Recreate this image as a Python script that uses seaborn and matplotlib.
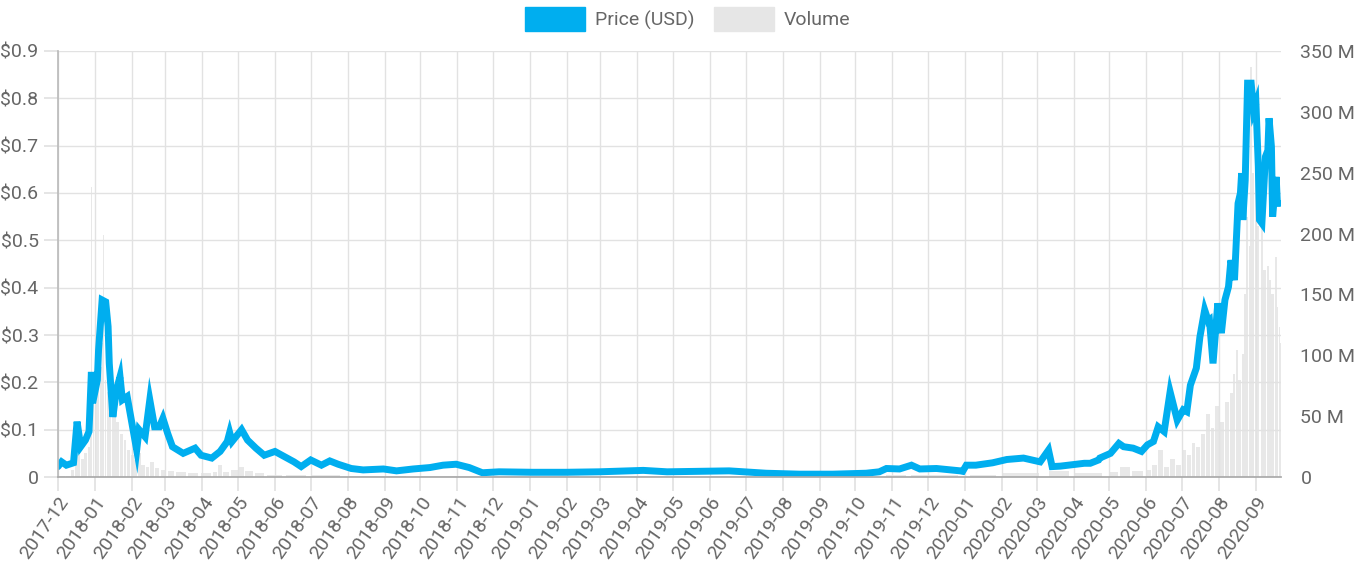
import pandas as pd
import numpy as np
import matplotlib.pyplot as plt
import matplotlib.dates as mdates
from matplotlib.patches import Patch
from matplotlib.ticker import FixedLocator, FuncFormatter
import seaborn as sns

sns.set_theme(style="white")
plt.rcParams['font.family'] = ['Roboto', 'DejaVu Sans']

# price samples
price_dates = [
    "2017-12-01", "2017-12-04", "2017-12-08", "2017-12-14", "2017-12-17", "2017-12-20",
    "2017-12-24", "2017-12-27", "2017-12-29", "2017-12-30", "2018-01-03", "2018-01-04",
    "2018-01-07", "2018-01-10", "2018-01-12", "2018-01-13", "2018-01-16", "2018-01-19",
    "2018-01-22", "2018-01-24", "2018-01-28", "2018-01-30", "2018-02-05", "2018-02-07",
    "2018-02-12", "2018-02-16", "2018-02-20", "2018-02-24", "2018-02-27", "2018-03-03",
    "2018-03-07", "2018-03-16", "2018-03-26", "2018-03-31", "2018-04-09", "2018-04-16",
    "2018-04-22", "2018-04-24", "2018-04-26", "2018-05-04", "2018-05-09", "2018-05-16",
    "2018-05-23", "2018-06-01", "2018-06-09", "2018-06-17", "2018-06-23", "2018-07-01",
    "2018-07-10", "2018-07-17", "2018-07-24", "2018-08-04", "2018-08-14", "2018-08-31",
    "2018-09-11", "2018-09-25", "2018-10-09", "2018-10-20", "2018-10-31", "2018-11-11",
    "2018-11-22", "2018-12-06", "2019-01-03", "2019-01-31", "2019-02-28", "2019-04-06",
    "2019-04-26", "2019-05-23", "2019-06-17", "2019-07-18", "2019-08-15", "2019-09-12",
    "2019-10-10", "2019-10-21", "2019-10-27", "2019-11-07", "2019-11-17", "2019-11-24",
    "2019-12-08", "2019-12-28", "2019-12-30", "2020-01-02", "2020-01-10", "2020-01-24",
    "2020-02-05", "2020-02-19", "2020-02-26", "2020-03-04", "2020-03-11", "2020-03-14",
    "2020-03-21", "2020-04-10", "2020-04-15", "2020-04-22", "2020-04-23", "2020-05-02",
    "2020-05-09", "2020-05-13", "2020-05-21", "2020-05-28", "2020-06-02", "2020-06-07",
    "2020-06-11", "2020-06-16", "2020-06-21", "2020-06-27", "2020-07-02", "2020-07-05",
    "2020-07-08", "2020-07-13", "2020-07-16", "2020-07-20", "2020-07-23", "2020-07-24",
    "2020-07-27", "2020-07-31", "2020-08-03", "2020-08-06", "2020-08-09", "2020-08-11",
    "2020-08-14", "2020-08-17", "2020-08-19", "2020-08-20", "2020-08-21", "2020-08-23",
    "2020-08-25", "2020-08-28", "2020-08-30", "2020-09-01", "2020-09-03", "2020-09-04",
    "2020-09-06", "2020-09-09", "2020-09-11", "2020-09-12", "2020-09-14", "2020-09-15",
    "2020-09-18", "2020-09-19", "2020-09-21",
]
price_usd = [
    0.022, 0.032, 0.025, 0.030, 0.117, 0.064,
    0.078, 0.096, 0.222, 0.156, 0.205, 0.268,
    0.374, 0.370, 0.318, 0.240, 0.127, 0.184,
    0.212, 0.163, 0.170, 0.142, 0.057, 0.100,
    0.085, 0.163, 0.106, 0.106, 0.124, 0.092,
    0.064, 0.050, 0.061, 0.046, 0.040, 0.054,
    0.075, 0.094, 0.075, 0.100, 0.078, 0.061,
    0.046, 0.054, 0.043, 0.032, 0.022, 0.036,
    0.025, 0.034, 0.027, 0.018, 0.015, 0.017,
    0.013, 0.017, 0.020, 0.025, 0.027, 0.020,
    0.009, 0.011, 0.010, 0.010, 0.011, 0.014,
    0.011, 0.012, 0.013, 0.008, 0.006, 0.006,
    0.008, 0.011, 0.018, 0.017, 0.025, 0.017,
    0.018, 0.013, 0.012, 0.025, 0.025, 0.030,
    0.037, 0.040, 0.036, 0.032, 0.057, 0.022,
    0.023, 0.029, 0.029, 0.036, 0.040, 0.050,
    0.071, 0.064, 0.061, 0.054, 0.068, 0.075,
    0.106, 0.096, 0.180, 0.120, 0.142, 0.138,
    0.194, 0.230, 0.296, 0.353, 0.330, 0.332,
    0.240, 0.367, 0.304, 0.374, 0.402, 0.458,
    0.416, 0.578, 0.600, 0.642, 0.543, 0.627,
    0.832, 0.832, 0.775, 0.790, 0.656, 0.543,
    0.536, 0.677, 0.690, 0.758, 0.698, 0.550,
    0.634, 0.578, 0.578,
]

# volume samples (millions)
volume_dates = [
    "2017-12-01", "2017-12-08", "2017-12-12", "2017-12-15", "2017-12-17", "2017-12-20",
    "2017-12-23", "2017-12-26", "2017-12-28", "2017-12-29", "2017-12-30", "2018-01-01",
    "2018-01-03", "2018-01-05", "2018-01-07", "2018-01-08", "2018-01-09", "2018-01-11",
    "2018-01-13", "2018-01-15", "2018-01-17", "2018-01-19", "2018-01-22", "2018-01-25",
    "2018-01-28", "2018-01-31", "2018-02-03", "2018-02-06", "2018-02-09", "2018-02-13",
    "2018-02-16", "2018-02-20", "2018-02-25", "2018-03-03", "2018-03-10", "2018-03-20",
    "2018-03-31", "2018-04-10", "2018-04-14", "2018-04-18", "2018-04-25", "2018-05-02",
    "2018-05-07", "2018-05-15", "2018-05-25", "2018-06-10", "2018-07-01", "2018-08-01",
    "2018-10-01", "2018-12-01", "2019-03-01", "2019-06-01", "2019-09-01", "2019-10-27",
    "2019-11-17", "2020-01-05", "2020-02-01", "2020-03-11", "2020-04-01", "2020-05-01",
    "2020-05-10", "2020-05-20", "2020-06-01", "2020-06-06", "2020-06-11", "2020-06-16",
    "2020-06-21", "2020-06-26", "2020-07-01", "2020-07-05", "2020-07-09", "2020-07-13",
    "2020-07-17", "2020-07-21", "2020-07-25", "2020-07-29", "2020-08-02", "2020-08-06",
    "2020-08-10", "2020-08-13", "2020-08-15", "2020-08-17", "2020-08-20", "2020-08-22",
    "2020-08-24", "2020-08-26", "2020-08-27", "2020-08-29", "2020-08-31", "2020-09-02",
    "2020-09-04", "2020-09-05", "2020-09-07", "2020-09-10", "2020-09-12", "2020-09-14",
    "2020-09-17", "2020-09-19", "2020-09-20", "2020-09-21",
]
volume_m = [
    0.5, 1, 6, 10, 18, 15,
    20, 25, 45, 238, 60, 70,
    85, 90, 110, 199, 80, 70,
    60, 75, 50, 45, 35, 30,
    22, 18, 14, 20, 10, 8,
    12, 7, 6, 5, 4, 3,
    3, 4, 10, 4, 6, 8,
    5, 3, 2, 2, 1.5, 1.2,
    1, 1, 1, 1, 1, 2,
    2, 2, 3, 5, 3, 4,
    8, 5, 6, 10, 22, 8,
    15, 10, 22, 18, 28, 25,
    35, 52, 40, 58, 45, 62,
    69, 85, 104, 80, 101, 150,
    214, 190, 337, 250, 307, 206,
    185, 217, 170, 173, 162, 150,
    181, 140, 123, 110,
]

price_x = pd.to_datetime(price_dates)
vol_x = pd.to_datetime(volume_dates)
end_date = pd.Timestamp("2020-09-22")
vol_width = np.diff(np.append(mdates.date2num(vol_x), mdates.date2num(end_date)))

fig = plt.figure(figsize=(13.62, 5.71), dpi=100)
ax = fig.add_axes([0.0426, 0.1646, 0.8979, 0.7461])
ax2 = ax.twinx()
ax.set_zorder(ax2.get_zorder() + 1)
ax.patch.set_visible(False)

text_color = "#666666"
grid_color = "#e2e2e2"

ax2.bar(vol_x, volume_m, width=vol_width * 0.8, align="edge", color="#e8e8e8",
        edgecolor="none")
ax2.set_ylim(0, 350)
ax2.yaxis.set_major_locator(FixedLocator(np.arange(0, 351, 50)))
ax2.yaxis.set_major_formatter(FuncFormatter(lambda v, p: "0" if v == 0 else f"{int(v)} M"))

sns.lineplot(x=price_x, y=price_usd, ax=ax, color="#00aeef", linewidth=5)
for ln in ax.lines:
    ln.set_solid_joinstyle("miter")
ax.set_ylim(0, 0.9)
ax.set_xlim(pd.Timestamp("2017-12-01"), end_date)
ax.yaxis.set_major_locator(FixedLocator(np.round(np.arange(0, 0.91, 0.1), 1)))
ax.yaxis.set_major_formatter(FuncFormatter(lambda v, p: "0" if v == 0 else f"${v:.1f}"))
ax.xaxis.set_major_locator(mdates.MonthLocator())
ax.xaxis.set_major_formatter(mdates.DateFormatter("%Y-%m"))

ax.grid(True, color=grid_color, linewidth=1)
for a in (ax, ax2):
    for s in a.spines.values():
        s.set_visible(False)
ax.spines["left"].set_visible(True)
ax.spines["left"].set_color("#bbbbbb")
ax.spines["bottom"].set_visible(True)
ax.spines["bottom"].set_color("#aaaaaa")

ax.tick_params(axis="y", length=10, color=grid_color, labelcolor=text_color, labelsize=14, pad=4, left=True)
ax.tick_params(axis="x", length=10, color=grid_color, labelcolor=text_color, labelsize=14, pad=2, bottom=True)
ax2.tick_params(axis="y", length=0, labelcolor=text_color, labelsize=14, pad=14)
for lbl in ax.get_xticklabels():
    lbl.set_rotation(55)
    lbl.set_ha("right")
    lbl.set_rotation_mode("anchor")
ax.set_xlabel("")
ax.set_ylabel("")

handles = [Patch(color="#00aeef"), Patch(color="#e6e6e6")]
fig.legend(handles, ["Price (USD)", "Volume"], loc="upper center", bbox_to_anchor=(0.505, 1.018),
           ncol=2, frameon=False, fontsize=14, handlelength=3.1, handleheight=1.5,
           handletextpad=0.5, columnspacing=1.0, labelcolor=text_color)

fig.savefig("out.png", dpi=100)
